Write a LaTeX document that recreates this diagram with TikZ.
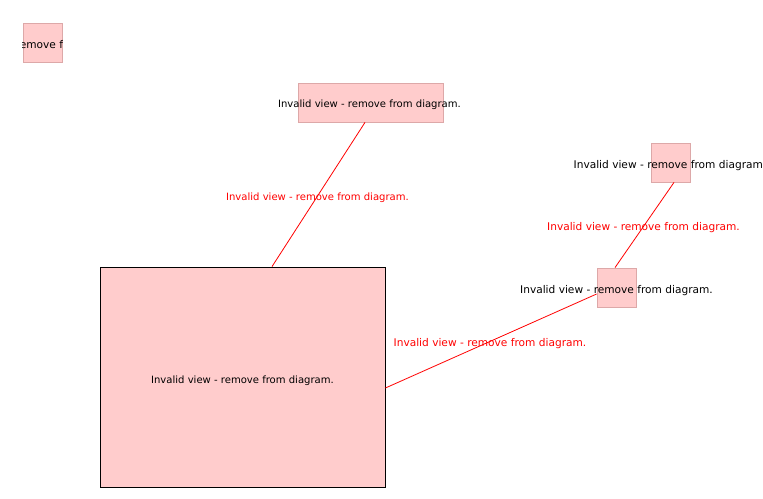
\documentclass[tikz,border=0pt]{standalone}
\usepackage{fontspec}
\setmainfont{DejaVu Sans}
\begin{document}
\begin{tikzpicture}[x=1pt,y=-1pt,
  box/.style={draw=boxline,fill=boxfill,line width=0.8pt,inner sep=0pt,minimum width=39pt,minimum height=39pt},
  txt/.style={inner sep=0pt,font=\fontsize{10.6}{12}\selectfont,text=black},
  txtsmall/.style={inner sep=0pt,font=\fontsize{10.05}{12}\selectfont,text=black},
  elabel/.style={inner sep=0pt,font=\fontsize{10.6}{12}\selectfont,text=red},
  elabelsmall/.style={inner sep=0pt,font=\fontsize{10.05}{12}\selectfont,text=red},
  conn/.style={draw=red,line width=0.8pt}]
\definecolor{boxfill}{HTML}{FFCCCC}
\definecolor{boxline}{HTML}{DDA8A8}
\useasboundingbox (0,0) rectangle (763,498);
\clip (0,0) rectangle (763,498);
% boxes
\node[box] (A) at (42.5,42.5) {};
\node[box,minimum width=145pt] (B) at (370.5,102.5) {};
\node[box] (C) at (670.5,162.5) {};
\node[box] (D) at (616.5,287.5) {};
\node[box,draw=black,minimum width=285pt,minimum height=220pt] (E) at (242.5,377) {};
% connectors
\draw[conn] ([xshift=-5.5pt]B.south) -- ([xshift=29.5pt]E.north);
\draw[conn] ([xshift=3.5pt]C.south) -- ([xshift=-1.5pt]D.north);
\draw[conn] ([yshift=-6.5pt]D.west) -- ([yshift=-11pt]E.east);
% texts
\begin{scope}
\clip (A.south west) rectangle (A.north east);
\node[txt] (tA) at ([xshift=-4pt,yshift=-3pt]A.center) {Invalid view - remove from diagram.};
\end{scope}
\node[txtsmall] (tB) at ([xshift=-1pt,yshift=-2pt]B.center) {Invalid view - remove from diagram.};
\node[txt] (tC) at ([xshift=-0.5pt,yshift=-3pt]C.center) {Invalid view - remove from diagram.};
\node[txt] (tD) at ([yshift=-3pt]D.center) {Invalid view - remove from diagram.};
\node[txtsmall] (tE) at ([yshift=-3.5pt]E.center) {Invalid view - remove from diagram.};
\node[elabelsmall] (l1) at (317.5,197.5) {Invalid view - remove from diagram.};
\node[elabel] (l2) at (643.5,227.5) {Invalid view - remove from diagram.};
\node[elabel] (l3) at (490,343.5) {Invalid view - remove from diagram.};
\end{tikzpicture}
\end{document}
